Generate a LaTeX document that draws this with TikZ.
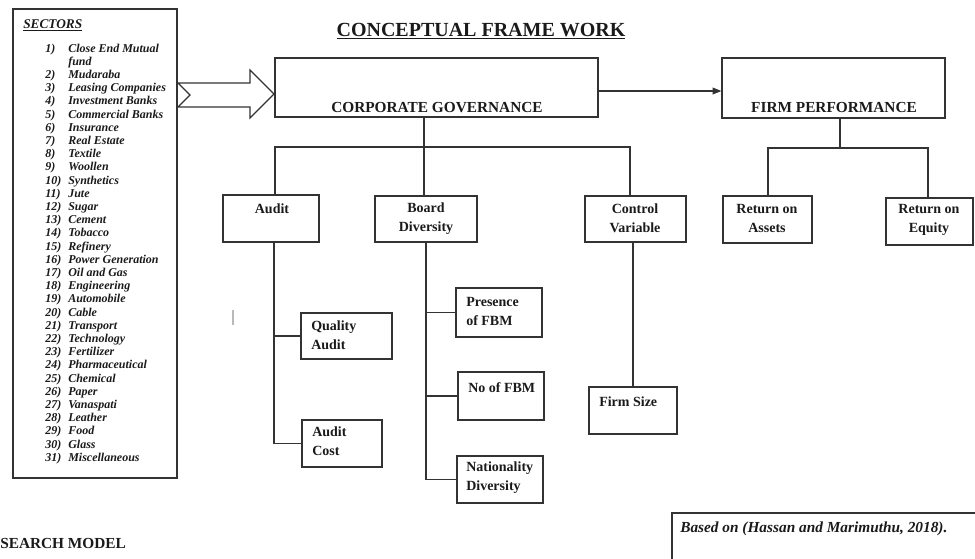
\documentclass[tikz,border=0pt]{standalone}
\usepackage{fontspec}
\setmainfont{Liberation Serif}
\usetikzlibrary{fit,arrows.meta,calc}
\definecolor{lc}{HTML}{333333}
\definecolor{tc}{HTML}{1A1A1A}
\begin{document}
\begin{tikzpicture}[x=0.75pt,y=-0.75pt,
  box/.style={draw=lc, line width=0.9pt, inner sep=0pt, rectangle},
  lbl/.style={font=\fontsize{10.5}{14.25}\selectfont\bfseries, text=tc, inner sep=0pt, align=center},
  lbll/.style={lbl, align=left, anchor=west},
  head/.style={font=\fontsize{11.5}{14}\selectfont\bfseries, text=tc, inner sep=0pt, anchor=base},
  sec/.style={font=\fontsize{9}{10}\selectfont\bfseries\itshape, text=tc, inner sep=0pt, anchor=base west},
  conn/.style={draw=lc, line width=0.9pt},
  arr/.style={conn, -{Triangle[length=6.5pt,width=5pt]}},
]
\useasboundingbox (0,0) rectangle (975,558);
\clip (0,0) rectangle (975,558);

% ---------- sectors ----------
\node[box, fit={(13,9) (177,478)}] (secbox) {};
\node[sec, font=\fontsize{10}{12}\selectfont\bfseries\itshape] (sectitle) at (23,28) {\underline{SECTORS}};
\node[sec] (sn1) at (45,52) {1)};
\node[sec] (st1) at (68,52) {Close End Mutual};
\node[sec] (st1b) at (68,65.2) {fund};
\foreach \n/\t in {2/Mudaraba,3/Leasing Companies,4/Investment Banks,5/Commercial Banks,6/Insurance,7/Real Estate,8/Textile,9/Woollen,10/Synthetics,11/Jute,12/Sugar,13/Cement,14/Tobacco,15/Refinery,16/Power Generation,17/Oil and Gas,18/Engineering,19/Automobile,20/Cable,21/Transport,22/Technology,23/Fertilizer,24/Pharmaceutical,25/Chemical,26/Paper,27/Vanaspati,28/Leather,29/Food,30/Glass,31/Miscellaneous}{
  \node[sec] (sn\n) at (45,{52+13.2*\n}) {\n)};
  \node[sec] (st\n) at (68,{52+13.2*\n}) {\t};
}

% ---------- block arrow ----------
\draw[lc, line width=0.9pt, fill=white] (178,83) -- (250,83) -- (250,70) -- (274,94) -- (250,118) -- (250,107) -- (178,107) -- (190,95) -- cycle;

% ---------- title ----------
\node[head, font=\fontsize{15}{16}\selectfont\bfseries] (title) at (481,36) {\underline{CONCEPTUAL FRAME WORK}};

% ---------- main boxes ----------
\node[box, fit={(275,58) (598,117)}] (cg) {};
\node[head] (cgt) at (437,112) {CORPORATE GOVERNANCE};
\node[box, fit={(722,58) (945,118)}] (fp) {};
\node[head] (fpt) at (834,112) {FIRM PERFORMANCE};
\draw[arr] (cg.east |- 0,91) -- (fp.west |- 0,91);

% ---------- CG children ----------
\node[box, fit={(223,195) (319,242)}] (audit) {};
\node[lbl, anchor=base] (auditt) at (272,213) {Audit};
\node[box, fit={(375,196) (477,242)}] (board) {};
\node[lbl] (boardt) at (426,219) {Board\\Diversity};
\node[box, fit={(585,196) (686,242)}] (ctrl) {};
\node[lbl] (ctrlt) at (635,218) {Control\\Variable};

\coordinate (ta) at (275,147);
\coordinate (tb) at (424,147);
\coordinate (tc) at (630,147);
\draw[conn] (tb |- cg.south) -- (tb |- board.north);
\draw[conn] (ta |- audit.north) -- (ta) -- (tc) -- (tc |- ctrl.north);

% ---------- FP children ----------
\node[box, fit={(723,196) (812,243)}] (roa) {};
\node[lbl] (roat) at (767,218) {Return on\\Assets};
\node[box, fit={(886,198) (973,245)}] (roe) {};
\node[lbl] (roet) at (929,220) {Return on\\Equity};
\coordinate (f0) at (840,148);
\coordinate (fa) at (768,148);
\coordinate (fe) at (928,148);
\draw[conn] (f0 |- fp.south) -- (f0);
\draw[conn] (fa |- roa.north) -- (fa) -- (fe) -- (fe |- roe.north);

% ---------- Audit sub ----------
\node[box, fit={(301,313) (392,359)}] (qa) {};
\node[lbll] (qat) at (311,335) {Quality\\Audit};
\node[box, fit={(302,420) (382,467)}] (ac) {};
\node[lbll] (act) at (312,441) {Audit\\Cost};
\coordinate (va) at (274,300);
\draw[conn] (va |- audit.south) -- (va |- ac.west) -- (ac.west);
\draw[conn] (qa.west -| va) -- (qa.west);

% ---------- Board sub ----------
\node[box, fit={(456,288) (542,337)}] (pres) {};
\node[lbll] (prest) at (466,311) {Presence\\of FBM};
\node[box, fit={(458,372) (544,420)}] (nob) {};
\node[lbl, anchor=base west] (nobt) at (468,392) {No of FBM};
\node[box, fit={(457,456) (543,503)}] (nat) {};
\node[lbll] (natt) at (466,478) {Nationality\\Diversity};
\coordinate (vb) at (426,300);
\draw[conn] (vb |- board.south) -- (vb |- nat.west) -- (nat.west);
\draw[conn] (pres.west -| vb) -- (pres.west);
\draw[conn] (nob.west -| vb) -- (nob.west);

% ---------- Control sub ----------
\node[box, fit={(589,387) (677,434)}] (fs) {};
\node[lbl, anchor=base west] (fst) at (599,406) {Firm Size};
\draw[conn] (fs.north) -- (fs.north |- ctrl.south);

% ---------- stray mark ----------
\draw[gray!55, line width=1pt] (233,310) -- (233,325);

% ---------- footer ----------
\node[head, anchor=base west] (rm) at (0,548) {SEARCH MODEL};
\node[box, fit={(672,513) (990,570)}] (based) {};
\node[head, font=\fontsize{11.5}{14}\selectfont\bfseries\itshape, anchor=base west] (basedt) at (680,532) {Based on (Hassan and Marimuthu, 2018).};
\end{tikzpicture}
\end{document}
